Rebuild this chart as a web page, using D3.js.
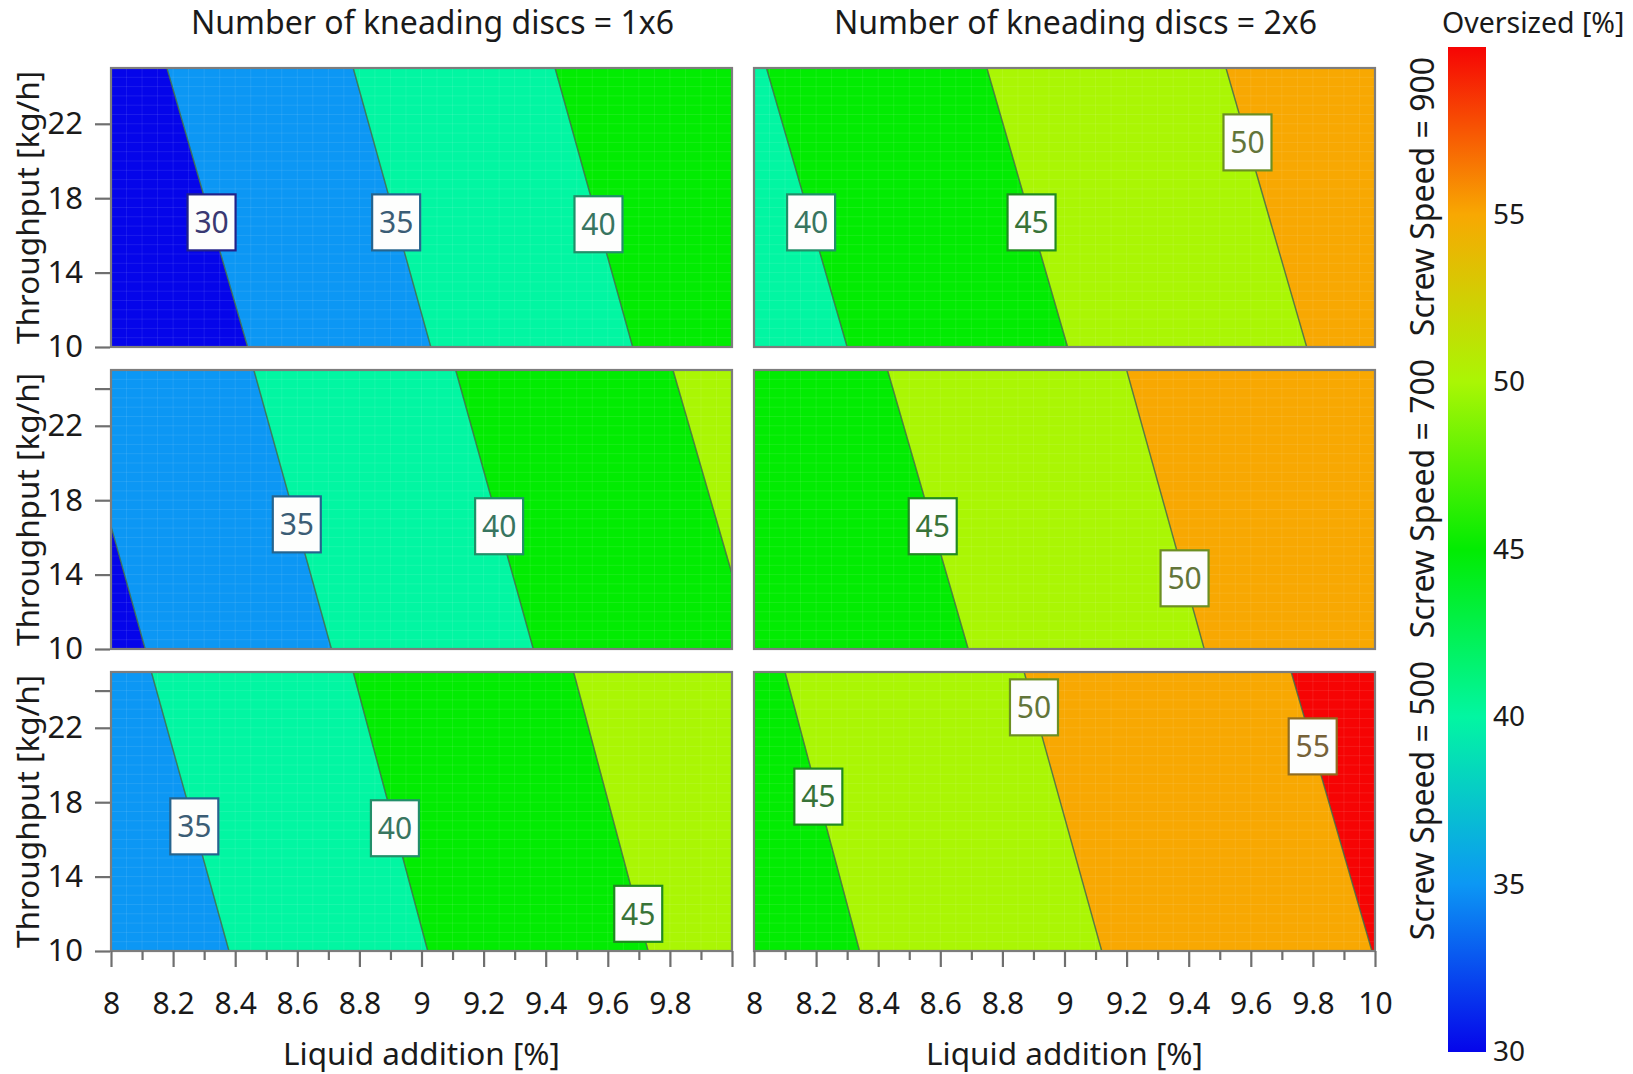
<!DOCTYPE html>
<html>
<head>
<meta charset="utf-8">
<script src="https://cdn.jsdelivr.net/npm/d3@7"></script>
<style>
  body { margin: 0; background: #fff; }
  svg { display: block; }
  text { font-family: "Noto Sans", sans-serif; fill: #1a1a1a; }
</style>
</head>
<body>
<svg id="chart" width="1633" height="1074"></svg>
<script>
// ---- data ---------------------------------------------------------------
const liquidDomain = [8, 10];
const throughputDomain = [10, 25];
const liquidTicks = [8, 8.2, 8.4, 8.6, 8.8, 9, 9.2, 9.4, 9.6, 9.8, 10];
const liquidMinorTicks = [8.1, 8.3, 8.5, 8.7, 8.9, 9.1, 9.3, 9.5, 9.7, 9.9];
const throughputTicks = [10, 14, 18, 22];
const throughputExtraTicks = [24];
const discSettings = ["1x6", "2x6"];
const screwSpeeds = [900, 700, 500];

// Oversized [%] colour scale
const colorStops = [30, 35, 40, 45, 50, 55, 60];
const colorValues = ["#0505ea", "#0c97f4", "#02f6a2", "#02ec02", "#aaf604", "#f8a802", "#f60404"];
const colorbarTicks = [30, 35, 40, 45, 50, 55];

// Contour lines: [level, liquid addition at throughput 10, liquid addition at throughput 25]
const contours900_1x6 = [[30, 8.44, 8.18], [35, 9.03, 8.78], [40, 9.68, 9.43]];
const contours900_2x6 = [[40, 8.30, 8.04], [45, 9.01, 8.75], [50, 9.78, 9.52]];
const contours700_1x6 = [[30, 8.11, 7.86], [35, 8.71, 8.46], [40, 9.36, 9.11], [45, 10.07, 9.81]];
const contours700_2x6 = [[45, 8.69, 8.43], [50, 9.45, 9.20]];
const contours500_1x6 = [[35, 8.38, 8.13], [40, 9.02, 8.78], [45, 9.73, 9.49]];
const contours500_2x6 = [[45, 8.34, 8.10], [50, 9.12, 8.87], [55, 9.99, 9.73]];

// Contour labels: [level, throughput where the label sits on its line]
const labels900_1x6 = [[30, 16.7], [35, 16.7], [40, 16.6]];
const labels900_2x6 = [[40, 16.7], [45, 16.7], [50, 21.0]];
const labels700_1x6 = [[35, 16.7], [40, 16.6]];
const labels700_2x6 = [[45, 16.6], [50, 13.8]];
const labels500_1x6 = [[35, 16.7], [40, 16.6], [45, 12.0]];
const labels500_2x6 = [[45, 18.3], [50, 23.1], [55, 21.0]];

const panelContours = {
  "900|1x6": contours900_1x6, "900|2x6": contours900_2x6,
  "700|1x6": contours700_1x6, "700|2x6": contours700_2x6,
  "500|1x6": contours500_1x6, "500|2x6": contours500_2x6
};
const panelLabels = {
  "900|1x6": labels900_1x6, "900|2x6": labels900_2x6,
  "700|1x6": labels700_1x6, "700|2x6": labels700_2x6,
  "500|1x6": labels500_1x6, "500|2x6": labels500_2x6
};

// ---- layout -------------------------------------------------------------
const colX = [[111, 732], [754, 1375]];
const rowY = [[68, 347], [370, 649], [672, 951]];

const svg = d3.select("#chart");
const colorScale = d3.scaleLinear().domain(colorStops).range(colorValues).interpolate(d3.interpolateRgb);
const defs = svg.append("defs");

function labelBorder(level) { return d3.interpolateRgb(colorScale(level), "#3a3a3a")(0.55); }
function labelText(level) { return d3.interpolateRgb(colorScale(level), "#4a4a4a")(0.75); }

screwSpeeds.forEach((speed, r) => {
  discSettings.forEach((disc, c) => {
    const key = speed + "|" + disc;
    const x = d3.scaleLinear().domain(liquidDomain).range(colX[c]);
    const y = d3.scaleLinear().domain(throughputDomain).range([rowY[r][1], rowY[r][0]]);
    const g = svg.append("g");
    const clipId = "clip-" + r + "-" + c;
    defs.append("clipPath").attr("id", clipId)
      .append("rect")
      .attr("x", x(8)).attr("y", y(25))
      .attr("width", x(10) - x(8)).attr("height", y(10) - y(25));

    const plot = g.append("g").attr("clip-path", `url(#${clipId})`);
    const lines = panelContours[key].map(d => ({ level: d[0], xb: d[1], xt: d[2] }));
    const bounds = [{ xb: 6, xt: 6 }, ...lines, { xb: 12, xt: 12 }];

    // filled bands between neighbouring contour lines
    for (let i = 0; i < bounds.length - 1; i++) {
      const a = bounds[i], b = bounds[i + 1];
      const level = i < lines.length ? lines[i].level : lines[lines.length - 1].level + 5;
      const pts = [[x(a.xb), y(10)], [x(b.xb), y(10)], [x(b.xt), y(25)], [x(a.xt), y(25)]];
      plot.append("path")
        .attr("d", d3.line()(pts) + "Z")
        .attr("fill", colorScale(level));
    }

    // faint underlying grid
    const gx = d3.range(8, 10.001, 0.05), gy = d3.range(10, 25.001, 0.5);
    plot.append("g").selectAll("line").data(gx).join("line")
      .attr("x1", d => x(d)).attr("x2", d => x(d))
      .attr("y1", y(10)).attr("y2", y(25))
      .attr("stroke", "#fff").attr("stroke-opacity", 0.09).attr("stroke-width", 1);
    plot.append("g").selectAll("line").data(gy).join("line")
      .attr("y1", d => y(d)).attr("y2", d => y(d))
      .attr("x1", x(8)).attr("x2", x(10))
      .attr("stroke", "#fff").attr("stroke-opacity", 0.09).attr("stroke-width", 1);

    // contour lines
    plot.selectAll("line.contour").data(lines).join("line")
      .attr("class", "contour")
      .attr("x1", d => x(d.xb)).attr("y1", y(10))
      .attr("x2", d => x(d.xt)).attr("y2", y(25))
      .attr("stroke", "#3f6a44").attr("stroke-opacity", 0.85).attr("stroke-width", 1.4);

    // panel frame
    g.append("rect")
      .attr("x", x(8)).attr("y", y(25))
      .attr("width", x(10) - x(8)).attr("height", y(10) - y(25))
      .attr("fill", "none").attr("stroke", "#7d7d7d").attr("stroke-width", 2.2);

    // contour labels
    const byLevel = new Map(lines.map(d => [d.level, d]));
    panelLabels[key].forEach(([level, t]) => {
      const ln = byLevel.get(level);
      const lx = ln.xb + (ln.xt - ln.xb) * (t - 10) / 15;
      const cx = x(lx), cy = y(t);
      const lg = g.append("g").attr("transform", `translate(${cx},${cy})`);
      lg.append("rect")
        .attr("x", -24).attr("y", -28).attr("width", 48).attr("height", 56)
        .attr("fill", "#fdfefd").attr("stroke", labelBorder(level)).attr("stroke-width", 2.2);
      lg.append("text")
        .attr("text-anchor", "middle").attr("dy", "0.36em")
        .style("font-size", "30px").style("fill", labelText(level))
        .text(level);
    });

    // y axis on the left column
    if (c === 0) {
      const ax = g.append("g").attr("transform", `translate(${x(8)},0)`)
        .call(d3.axisLeft(y).tickValues(r === 0 ? throughputTicks : throughputTicks.concat(throughputExtraTicks))
          .tickFormat(d => throughputTicks.includes(d) ? d : "")
          .tickSize(16).tickPadding(12));
      ax.select(".domain").remove();
      ax.selectAll(".tick line").attr("stroke", "#6f6f6f").attr("stroke-width", 2.2).attr("x2", -16).attr("x1", -1);
      ax.selectAll(".tick text").style("font-size", "31px").style("font-family", "Noto Sans").attr("fill", "#1a1a1a");
      svg.append("text")
        .attr("transform", `translate(28,${(rowY[r][0] + rowY[r][1]) / 2}) rotate(-90)`)
        .attr("text-anchor", "middle").attr("dy", "0.36em")
        .style("font-size", "31.5px")
        .text("Throughput [kg/h]");
    }

    // x axis on the bottom row
    if (r === screwSpeeds.length - 1) {
      const majors = c === 0 ? liquidTicks.slice(0, -1) : liquidTicks;
      const ax = g.append("g").attr("transform", `translate(0,${y(10)})`)
        .call(d3.axisBottom(x).tickValues(liquidTicks)
          .tickFormat(d => majors.includes(d) ? d3.format("~g")(d) : "")
          .tickSize(16).tickPadding(26));
      ax.select(".domain").remove();
      ax.selectAll(".tick line").attr("stroke", "#6f6f6f").attr("stroke-width", 2.2);
      ax.selectAll(".tick text").style("font-size", "30px").style("font-family", "Noto Sans").attr("fill", "#1a1a1a");
      const mn = g.append("g").attr("transform", `translate(0,${y(10)})`)
        .call(d3.axisBottom(x).tickValues(liquidMinorTicks).tickFormat("").tickSize(9));
      mn.select(".domain").remove();
      mn.selectAll(".tick line").attr("stroke", "#6f6f6f").attr("stroke-width", 2.2);
      svg.append("text")
        .attr("x", (colX[c][0] + colX[c][1]) / 2).attr("y", 1065)
        .attr("text-anchor", "middle")
        .style("font-size", "31.5px")
        .text("Liquid addition [%]");
    }

    // column titles
    if (r === 0) {
      svg.append("text")
        .attr("x", (colX[c][0] + colX[c][1]) / 2 + 11).attr("y", 34)
        .attr("text-anchor", "middle")
        .style("font-size", "32px")
        .text("Number of kneading discs = " + disc);
    }
  });

  // row strip labels
  svg.append("text")
    .attr("transform", `translate(1422,${(rowY[r][0] + rowY[r][1]) / 2 - 11}) rotate(-90)`)
    .attr("text-anchor", "middle").attr("dy", "0.36em")
    .style("font-size", "32px")
    .text("Screw Speed = " + speed);
});

// ---- colour bar -----------------------------------------------------------
const cbY = d3.scaleLinear().domain([30, 60]).range([1052, 47]);
const grad = defs.append("linearGradient").attr("id", "cbgrad")
  .attr("x1", 0).attr("y1", 1).attr("x2", 0).attr("y2", 0);
grad.selectAll("stop").data(colorStops).join("stop")
  .attr("offset", d => (d - 30) / 30)
  .attr("stop-color", d => colorScale(d));
svg.append("rect")
  .attr("x", 1448).attr("y", cbY(60))
  .attr("width", 38).attr("height", cbY(30) - cbY(60))
  .attr("fill", "url(#cbgrad)");
const cbAxis = svg.append("g").attr("transform", "translate(1486,0)")
  .call(d3.axisRight(cbY).tickValues(colorbarTicks).tickSize(0).tickPadding(7));
cbAxis.select(".domain").remove();
cbAxis.selectAll(".tick text").style("font-size", "28px").style("font-family", "Noto Sans").attr("fill", "#1a1a1a");
svg.append("text")
  .attr("x", 1442).attr("y", 33)
  .style("font-size", "28.5px")
  .text("Oversized [%]");
</script>
</body>
</html>
